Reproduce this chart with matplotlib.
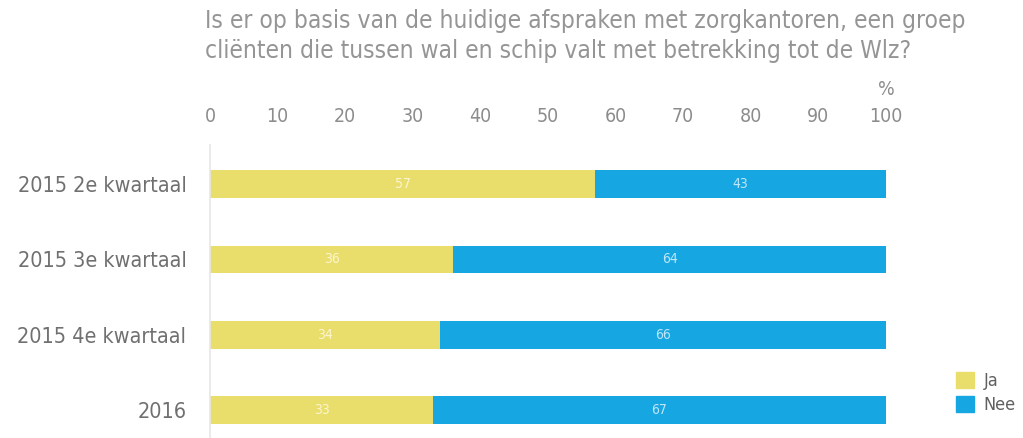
import matplotlib.pyplot as plt
from matplotlib.patches import Patch

categories = ["2015 2e kwartaal", "2015 3e kwartaal", "2015 4e kwartaal", "2016"]
ja = [57, 36, 34, 33]
nee = [43, 64, 66, 67]
ticks = [0, 10, 20, 30, 40, 50, 60, 70, 80, 90, 100]

title = ("Is er op basis van de huidige afspraken met zorgkantoren, een groep\n"
         "cliënten die tussen wal en schip valt met betrekking tot de Wlz?")

yellow = "#e9dd6b"
blue = "#16a6e1"
grey = "#8c8c8c"

plt.rcParams['font.family'] = ['DejaVu Sans']
plt.rcParams['font.stretch'] = 'condensed'

fig = plt.figure(figsize=(10.23, 4.38), dpi=100)
ax = fig.add_axes([210 / 1023, 0, 676 / 1023, 293 / 438])

pos = list(range(len(categories)))
ax.barh(pos, ja, height=0.37, color=yellow)
ax.barh(pos, nee, left=ja, height=0.37, color=blue)

# value labels in the middle of each segment
for i in pos:
    ax.text(ja[i] / 2, i, str(ja[i]), ha="center", va="center",
            color="#fbf6d0", fontsize=10)
    ax.text(ja[i] + nee[i] / 2, i, str(nee[i]), ha="center", va="center",
            color="#bfe6f7", fontsize=10)

ax.set_xlim(0, 100)
ax.set_ylim(3.37, -0.52)
ax.xaxis.tick_top()
ax.set_xticks(ticks)
ax.set_xticklabels([str(t) for t in ticks])
ax.tick_params(axis="x", length=0, pad=14, labelsize=14, labelcolor=grey)
ax.set_yticks(pos)
ax.set_yticklabels(categories)
ax.tick_params(axis="y", length=0, pad=17, labelsize=15.5, labelcolor="#707070")

for s in ["top", "right", "bottom"]:
    ax.spines[s].set_visible(False)
ax.spines["left"].set_color("#e6e6e6")
ax.spines["left"].set_linewidth(1.2)

fig.text(205 / 1023, 1 - 9 / 438, title, ha="left", va="top", fontsize=17.6,
         color="#959595", linespacing=1.3)
fig.text(886 / 1023, 1 - 90 / 438, "%", ha="center", va="center",
         fontsize=14, color=grey)

handles = [Patch(color=yellow, label="Ja"), Patch(color=blue, label="Nee")]
fig.legend(handles=handles, loc="center left", bbox_to_anchor=(940 / 1023, 1 - 393 / 438),
           frameon=False, fontsize=13, handlelength=1.0, handleheight=1.0,
           handletextpad=0.5, labelspacing=0.3, labelcolor="#606060")

fig.savefig("out.png", dpi=100)
